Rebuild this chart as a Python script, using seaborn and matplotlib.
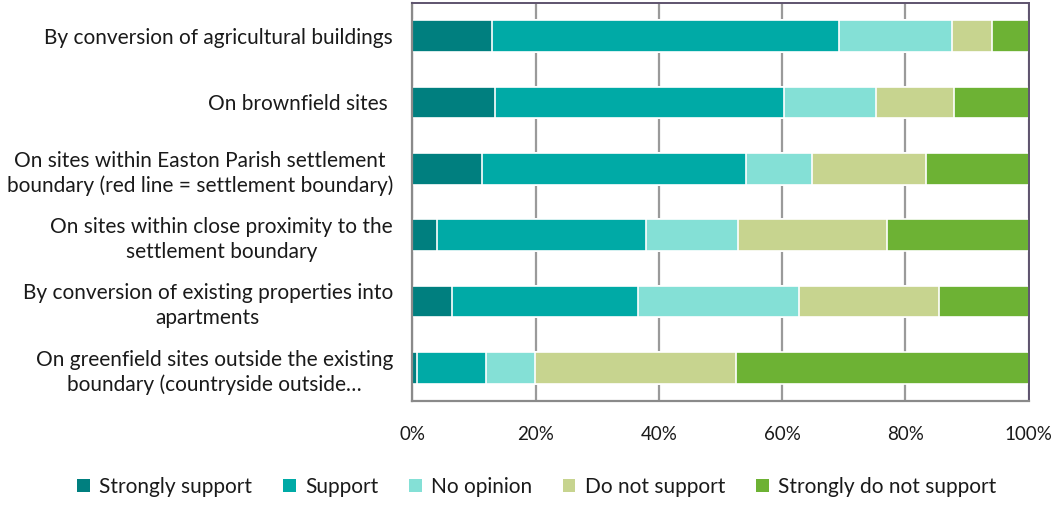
import matplotlib
matplotlib.use("Agg")
import matplotlib.pyplot as plt
import seaborn as sns
import numpy as np
import pandas as pd
from matplotlib.patches import Patch

sns.set_theme(style="white")
plt.rcParams["font.family"] = ["Lato", "DejaVu Sans"]

categories = [
    "By conversion of agricultural buildings",
    "On brownfield sites ",
    "On sites within Easton Parish settlement\nboundary (red line = settlement boundary)",
    "On sites within close proximity to the\nsettlement boundary",
    "By conversion of existing properties into\napartments",
    "On greenfield sites outside the existing\nboundary (countryside outside\u2026",
]
responses = ["Strongly support", "Support", "No opinion", "Do not support", "Strongly do not support"]

strongly_support = [13.0, 13.4, 11.3, 4.0, 6.5, 0.7]
support = [56.2, 46.9, 42.9, 33.9, 30.1, 11.2]
no_opinion = [18.3, 14.9, 10.6, 15.0, 26.1, 8.0]
do_not_support = [6.5, 12.7, 18.5, 24.1, 22.8, 32.7]
strongly_do_not = [6.0, 12.1, 16.7, 23.0, 14.5, 47.4]

colors = ["#007F7F", "#00AAA6", "#84E0D6", "#C7D48F", "#6DB234"]

series = [strongly_support, support, no_opinion, do_not_support, strongly_do_not]
df = pd.DataFrame({name: vals for name, vals in zip(responses, series)}, index=categories)
totals = df.sum(axis=1)
pct = df.div(totals, axis=0) * 100
cum = pct.cumsum(axis=1)

fig = plt.figure(figsize=(10.63, 5.09), dpi=100)
ax = fig.add_axes([0.3879, 0.2122, 0.9676 - 0.3879, 0.7819])

# Stack by overlaying cumulative totals, outermost layer first
for name, col in zip(reversed(responses), reversed(colors)):
    sns.barplot(x=cum[name].values, y=categories, color=col, orient="h",
                width=0.48, edgecolor="white", linewidth=1.2, ax=ax,
                saturation=1)

ax.set_xlim(0, 100)
ax.set_ylim(len(categories) - 0.5, -0.5)
ax.set_xticks(np.arange(0, 101, 20))
ax.set_xticklabels([f"{v}%" for v in range(0, 101, 20)], fontsize=13.5, color="#1a1a1a")
ax.tick_params(axis="y", labelsize=15, labelcolor="#1a1a1a", pad=14, length=0)
ax.tick_params(axis="x", pad=18, length=0)
for lab in ax.get_yticklabels():
    lab.set_multialignment("center")
    lab.set_linespacing(1.3)
ax.set_xlabel("")
ax.set_ylabel("")

ax.set_axisbelow(True)
ax.xaxis.grid(True, color="#9a9a9a", linewidth=1.6)
ax.yaxis.grid(False)

for side in ["left", "bottom"]:
    ax.spines[side].set_color("#8a8a8a")
    ax.spines[side].set_linewidth(1.6)
for side in ["top", "right"]:
    ax.spines[side].set_color("#5e536e")
    ax.spines[side].set_linewidth(1.4)

handles = [Patch(facecolor=c, edgecolor="none") for c in colors]
fig.legend(handles, responses, loc="center", bbox_to_anchor=(0.505, 0.043),
           ncol=5, frameon=False, fontsize=15, handlelength=0.6,
           handleheight=0.6, handletextpad=0.45, columnspacing=1.48,
           labelcolor="#1a1a1a")

fig.savefig("out.png", dpi=100, facecolor="white")
